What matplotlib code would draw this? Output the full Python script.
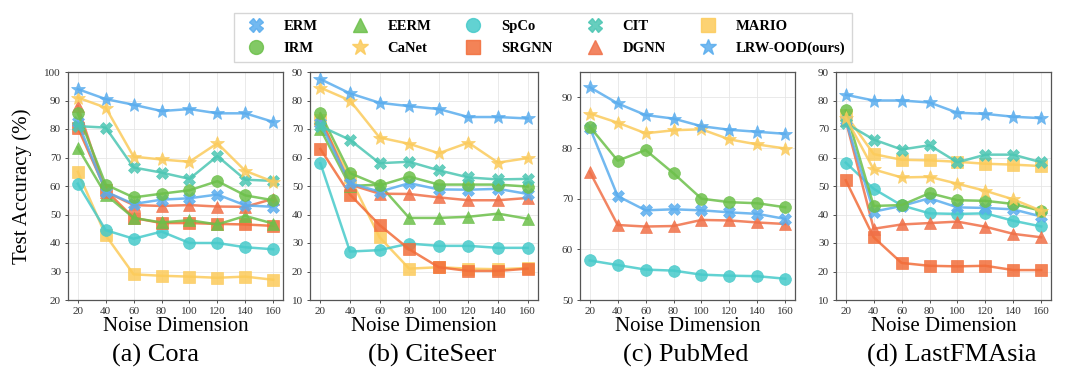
import numpy as np
import matplotlib
matplotlib.use("Agg")
import matplotlib.pyplot as plt
from matplotlib.lines import Line2D

plt.rcParams['font.family'] = ['Liberation Serif', 'DejaVu Serif']

noise_dims = [20, 40, 60, 80, 100, 120, 140, 160]

# (a) Cora
cora = {
    'LRW-OOD(ours)': [94, 90.5, 88.5, 86.3, 87, 85.5, 85.5, 82.5],
    'CaNet': [91, 87.5, 70.3, 69.3, 68.5, 75, 65.3, 61.5],
    'CIT': [81, 80.5, 66.5, 64.7, 62.5, 70.5, 62.2, 61.8],
    'IRM': [85.5, 60.5, 56, 57.3, 58.5, 61.7, 56.7, 55],
    'ERM': [82.5, 58, 53.7, 55.2, 55.7, 57, 53.2, 52.7],
    'DGNN': [88, 58, 53.3, 53, 53.3, 52.8, 52.7, 55.5],
    'SRGNN': [80.5, 58.5, 48.8, 47, 47, 46.7, 46.5, 46],
    'EERM': [73.5, 57, 48.8, 47.2, 48, 46.5, 49.5, 46.8],
    'SpCo': [60.8, 44.5, 41.5, 44, 40, 40, 38.5, 37.8],
    'MARIO': [65, 42.7, 29, 28.5, 28.2, 27.8, 28.2, 27.1],
}

# (b) CiteSeer
citeseer = {
    'LRW-OOD(ours)': [87.5, 82.5, 79.2, 78, 77, 74.2, 74.2, 73.7],
    'CaNet': [84.5, 80, 67, 64.8, 61.5, 65.2, 58.2, 59.8],
    'CIT': [71, 66.2, 58, 58.5, 55.5, 53, 52.3, 52.5],
    'IRM': [75.5, 54.5, 50.2, 53.3, 50.5, 50.5, 50.5, 49.8],
    'ERM': [72, 51, 48, 51, 48.8, 48.7, 49, 47.2],
    'DGNN': [74, 50.5, 47.3, 47.2, 46, 45, 45, 45.8],
    'EERM': [70, 50, 50.5, 38.8, 38.8, 39.2, 40.3, 38.5],
    'SRGNN': [63, 47, 36.3, 27.8, 21.5, 20.2, 20.2, 21],
    'SpCo': [58, 27, 27.5, 29.8, 29, 29, 28.3, 28.3],
    'MARIO': [73, 53, 32, 21, 21.5, 21, 20.8, 21.2],
}

# (c) PubMed
pubmed = {
    'LRW-OOD(ours)': [92, 88.8, 86.5, 85.8, 84.3, 83.6, 83.2, 82.8],
    'CaNet': [86.8, 85, 82.9, 83.5, 83.7, 81.7, 80.7, 79.9],
    'IRM': [84.2, 77.5, 79.6, 75, 70, 69.3, 69.1, 68.3],
    'ERM': [84, 70.5, 67.7, 67.9, 67.7, 67.3, 67, 66],
    'DGNN': [75.3, 64.8, 64.5, 64.6, 65.8, 65.7, 65.3, 65],
    'SpCo': [57.8, 56.9, 56, 55.8, 55, 54.8, 54.7, 54.2],
}

# (d) LastFMAsia
lastfm = {
    'LRW-OOD(ours)': [82, 80, 80, 79.3, 75.7, 75.3, 74.3, 73.8],
    'CIT': [72, 66.3, 62.8, 64.3, 58.3, 61, 61, 58.3],
    'MARIO': [75, 61.2, 59.2, 59, 58.5, 57.8, 57.5, 57],
    'CaNet': [74, 55.8, 53, 53.2, 50.8, 48.3, 45.3, 41.3],
    'IRM': [76.5, 43, 43.3, 47.5, 45, 44.8, 43.7, 41.3],
    'ERM': [73, 41, 43, 45.7, 42.5, 42.3, 41.8, 39.3],
    'SpCo': [58.2, 49, 43.2, 40.4, 40.2, 40.4, 37.8, 35.8],
    'DGNN': [73, 35, 36.5, 37, 37.5, 35.7, 33.2, 32],
    'SRGNN': [52, 32, 23, 22, 21.8, 22, 20.5, 20.5],
}

datasets = [cora, citeseer, pubmed, lastfm]
captions = ['(a) Cora', '(b) CiteSeer', '(c) PubMed', '(d) LastFMAsia']
ylims = [(20, 100), (10, 90), (50, 95), (10, 90)]
yticks = [range(20, 101, 10), range(10, 91, 10), range(50, 91, 10), range(10, 91, 10)]

styles = {
    'ERM': ('#5AADEE', 'X'),
    'IRM': ('#6CC04A', 'o'),
    'EERM': ('#6CC04A', '^'),
    'CaNet': ('#FBCB5C', '*'),
    'SpCo': ('#47CACA', 'o'),
    'SRGNN': ('#F26D3A', 's'),
    'CIT': ('#4CC6B3', 'X'),
    'DGNN': ('#F07048', '^'),
    'MARIO': ('#FCCB5A', 's'),
    'LRW-OOD(ours)': ('#5AADEE', '*'),
}
legend_order = ['ERM', 'IRM', 'EERM', 'CaNet', 'SpCo', 'SRGNN', 'CIT', 'DGNN', 'MARIO', 'LRW-OOD(ours)']
draw_order = ['MARIO', 'SpCo', 'SRGNN', 'EERM', 'DGNN', 'ERM', 'IRM', 'CIT', 'CaNet', 'LRW-OOD(ours)']

fig = plt.figure(figsize=(10.79, 3.8), dpi=100)
W, H = 1079, 380
boxes = [(68, 283), (310, 538), (580, 795), (836, 1051)]
cap_x = [155, 432, 686, 952]
top, bottom = 72, 300

for i, data in enumerate(datasets):
    l, r = boxes[i]
    ax = fig.add_axes([l / W, 1 - bottom / H, (r - l) / W, (bottom - top) / H])
    for name in draw_order:
        if name not in data:
            continue
        c, m = styles[name]
        ms = 10.5 if m == '*' else 8.5
        ax.plot(noise_dims, data[name], color=c, marker=m, markersize=ms,
                linewidth=1.8, alpha=0.85, markeredgewidth=0.5)
    ax.set_ylim(*ylims[i])
    ax.set_yticks(list(yticks[i]))
    ax.set_xlim(13, 167)
    ax.set_xticks(noise_dims)
    ax.tick_params(labelsize=8, length=2.5, width=0.6, pad=2.5, colors='#333333')
    ax.grid(True, color='#e6e6e6', linewidth=0.6)
    ax.set_axisbelow(True)
    for sp in ax.spines.values():
        sp.set_color('#555555')
        sp.set_linewidth(0.9)
    ax.set_xlabel('Noise Dimension', fontsize=15, labelpad=1)
    if i == 0:
        ax.set_ylabel('Test Accuracy (%)', fontsize=15, labelpad=9)
    fig.text(cap_x[i] / W, 1 - 355 / H, captions[i], fontsize=19, ha='center', va='center')

handles = []
for name in legend_order:
    c, m = styles[name]
    handles.append(Line2D([], [], linestyle='none', marker=m, color=c,
                          markersize=12 if m == '*' else 10, alpha=0.85))
leg = fig.legend(handles, legend_order, loc='center', ncol=5,
                 bbox_to_anchor=(543 / W, 1 - 37.5 / H),
                 prop={'weight': 'bold', 'size': 10.5}, frameon=True,
                 columnspacing=1.9, handletextpad=0.9, labelspacing=0.6,
                 borderpad=0.45, fancybox=False, edgecolor='#cccccc')

fig.savefig('out.png', dpi=100)
